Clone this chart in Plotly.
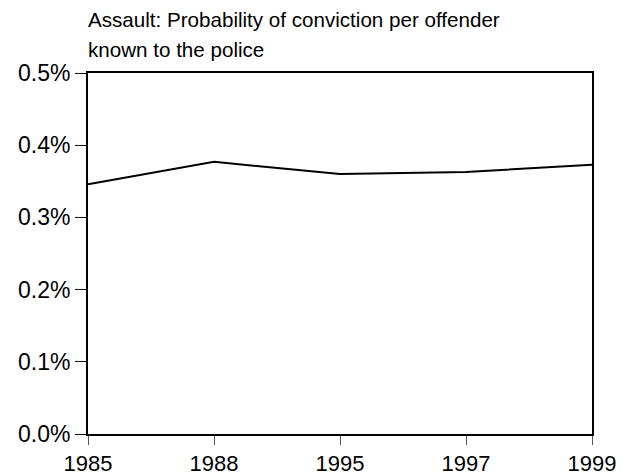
import plotly.graph_objects as go

years = ["1985", "1988", "1995", "1997", "1999"]
conviction_prob = [0.00346, 0.00377, 0.00360, 0.00363, 0.00373]
y_ticks = [0.0, 0.001, 0.002, 0.003, 0.004, 0.005]
title_lines = ["Assault: Probability of conviction per offender", "known to the police"]

FONT = "Liberation Sans, Arial, sans-serif"

fig = go.Figure()
fig.add_trace(go.Scatter(
    x=years, y=conviction_prob, mode="lines",
    line=dict(color="black", width=2), showlegend=False, hoverinfo="skip",
))

# page body has an 8px margin, so the figure is sized to fit the 629x476 window
fig.update_layout(
    width=621, height=468,
    margin=dict(l=80, r=37, t=65, b=42, autoexpand=False),
    paper_bgcolor="white", plot_bgcolor="white",
    font=dict(family=FONT, color="black"),
    xaxis=dict(
        type="category", range=[0, 4], automargin=False,
        showgrid=False, zeroline=False,
        showline=True, linecolor="black", linewidth=2, mirror=True,
        ticks="outside", ticklen=9, tickwidth=1, tickcolor="#555555",
        tickfont=dict(size=22, family=FONT, color="black"),
    ),
    yaxis=dict(
        range=[0, 0.005], tickvals=y_ticks, tickformat=".1%", automargin=False,
        showgrid=False, zeroline=False,
        showline=True, linecolor="black", linewidth=2, mirror=True,
        ticks="outside", ticklen=11, tickwidth=1, tickcolor="black",
        tickfont=dict(size=23, family=FONT, color="black"),
    ),
)

fig.add_annotation(text=title_lines[0], xref="paper", yref="paper",
                   x=0, y=1, xanchor="left", yanchor="bottom", xshift=-2, yshift=40,
                   showarrow=False, font=dict(size=20.6, family=FONT, color="black"))
fig.add_annotation(text=title_lines[1], xref="paper", yref="paper",
                   x=0, y=1, xanchor="left", yanchor="bottom", xshift=-2, yshift=10,
                   showarrow=False, font=dict(size=20.6, family=FONT, color="black"))

fig.write_html("out.html")
